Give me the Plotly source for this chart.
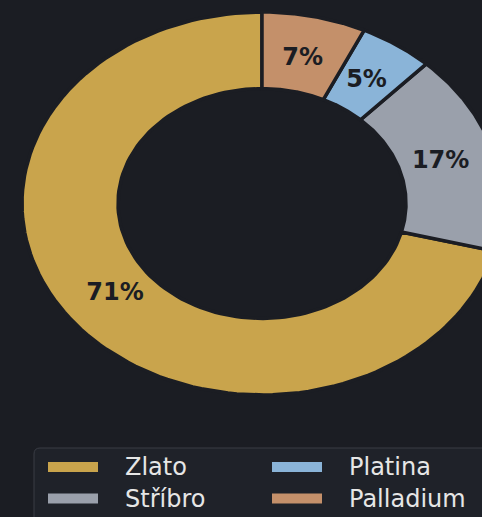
import numpy as np
import plotly.graph_objects as go

# Podíl drahých kovů (v %)
labels = ["Zlato", "Stříbro", "Platina", "Palladium"]
values = [71, 17, 5, 7]
colors = ["#c9a44c", "#9aa0ab", "#8ab4d8", "#c4906a"]

BG = "#1b1d23"
HOLE = 0.6
LABEL_R = 0.775
W, H = 482, 517


def px(x):
    return x / W


def py(y):
    return 1 - y / H


fig = go.Figure()

total = float(sum(values))
start = 90.0
mids = []
for name, val, col in zip(labels, values, colors):
    sweep = 360.0 * val / total
    a = np.radians(np.linspace(start, start + sweep, 120))
    xs = np.concatenate([np.cos(a), HOLE * np.cos(a[::-1]), [np.cos(a[0])]])
    ys = np.concatenate([np.sin(a), HOLE * np.sin(a[::-1]), [np.sin(a[0])]])
    fig.add_trace(go.Scatter(
        x=xs, y=ys,
        mode="lines",
        fill="toself",
        fillcolor=col,
        line=dict(color=BG, width=3.5),
        name=name,
        showlegend=False,
        hoverinfo="name",
    ))
    mids.append(np.radians(start + sweep / 2))
    start += sweep

mids = np.array(mids)
fig.add_trace(go.Scatter(
    x=LABEL_R * np.cos(mids),
    y=LABEL_R * np.sin(mids),
    mode="text",
    text=[f"{v / total * 100:.0f}%" for v in values],
    textfont=dict(family="DejaVu Sans", size=24, color=BG, weight="bold"),
    showlegend=False,
    hoverinfo="skip",
))

# legend box (2 columns, filled column by column), runs off the right/bottom edge
box_l, box_t, r = 34, 448, 6
fig.add_shape(
    type="path",
    xref="paper", yref="paper",
    path=(f"M {px(W + 20)},{py(box_t)} L {px(box_l + r)},{py(box_t)} "
          f"Q {px(box_l)},{py(box_t)} {px(box_l)},{py(box_t + r)} "
          f"L {px(box_l)},{py(H + 20)} L {px(W + 20)},{py(H + 20)} Z"),
    fillcolor="#1f2229",
    line=dict(color="#3a3d45", width=1),
    layer="above",
)
for i, (name, col) in enumerate(zip(labels, colors)):
    c, row = divmod(i, 2)
    x0 = 48 + 224 * c
    yc = 467 + 31.5 * row
    fig.add_shape(
        type="rect", xref="paper", yref="paper",
        x0=px(x0), x1=px(x0 + 50), y0=py(yc - 5), y1=py(yc + 5),
        fillcolor=col, line=dict(width=0), layer="above",
    )
    fig.add_annotation(
        xref="paper", yref="paper",
        x=px(x0 + 75), y=py(yc),
        xanchor="left", yanchor="middle",
        text=name, showarrow=False,
        font=dict(family="DejaVu Sans", size=24, color="#e6e6e6"),
    )

# donut centre at (262, 203.5) px, radii 240 px (x) and 191.5 px (y)
fig.update_xaxes(range=[-262 / 240, (W - 262) / 240], visible=False, fixedrange=True)
fig.update_yaxes(range=[-(H - 203.5) / 191.5, 203.5 / 191.5], visible=False, fixedrange=True)

fig.update_layout(
    width=W,
    height=H,
    margin=dict(l=0, r=0, t=0, b=0),
    paper_bgcolor=BG,
    plot_bgcolor=BG,
    showlegend=False,
)

fig.write_html(
    "out.html",
    config={"displayModeBar": False},
    post_script="document.body.style.margin='0';document.body.style.background='#1b1d23';",
)
